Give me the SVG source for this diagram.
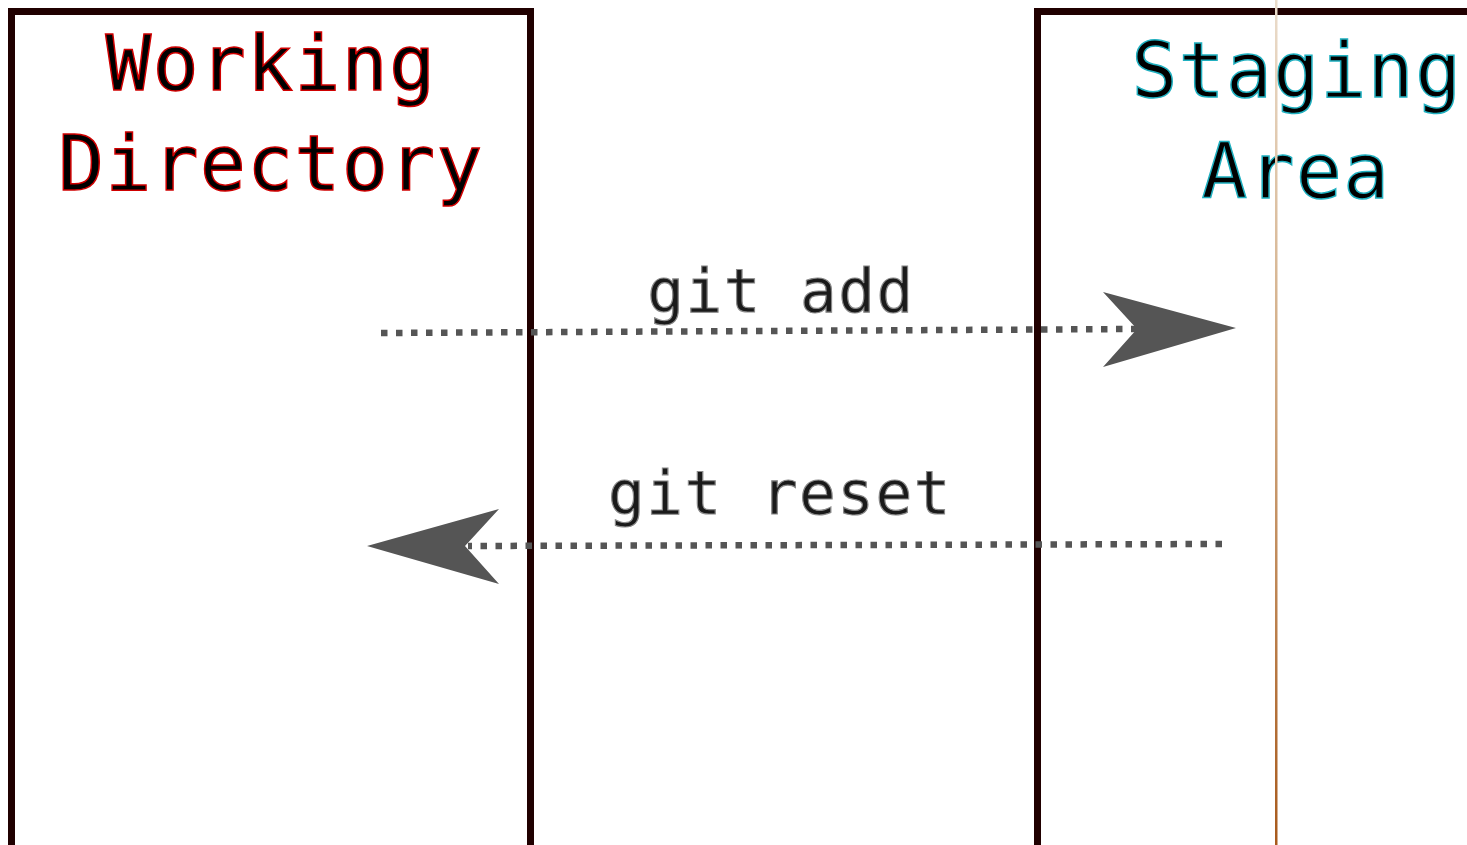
<svg xmlns="http://www.w3.org/2000/svg" width="1467" height="845" viewBox="0 0 1467 845">
<style>
.box{fill:#fff;stroke:#200000;stroke-width:7}
.title{font-family:"DejaVu Sans Mono","Liberation Mono",monospace;font-size:76px;fill:#000;stroke-width:1.5;text-anchor:middle;letter-spacing:1.5px}
.lbl{font-family:"DejaVu Sans Mono","Liberation Mono",monospace;font-size:61px;fill:#1a1a1a;stroke:#8a8a8a;stroke-width:1.2;text-anchor:middle;letter-spacing:1.5px}
.conn{stroke:#555;stroke-width:6.5;stroke-dasharray:6.5 8.5;fill:none}
.head{fill:#555}
</style>
<defs>
<linearGradient id="brown" x1="0" y1="0" x2="0" y2="1">
<stop offset="0" stop-color="#eadccb"/>
<stop offset="0.4" stop-color="#d4b08a"/>
<stop offset="1" stop-color="#a85a1c"/>
</linearGradient>
</defs>
<rect width="1467" height="845" fill="#fff"/>
<g id="working-directory">
<rect class="box" x="11.5" y="11.5" width="519" height="900"/>
<text class="title" stroke="#d00000" x="271" y="90">Working</text>
<text class="title" stroke="#d00000" x="271" y="190">Directory</text>
</g>
<g id="staging-area">
<rect class="box" x="1037.5" y="11.5" width="500" height="900"/>
<text class="title" stroke="#20b0c0" x="1297" y="97">Staging</text>
<text class="title" stroke="#20b0c0" x="1296" y="198">Area</text>
</g>
<rect id="divider" x="1275" y="0" width="2.5" height="845" fill="url(#brown)"/>
<g id="connectors">
<line class="conn" x1="381" y1="333" x2="1138" y2="329"/>
<path class="head" d="M1236,328 L1103,292 L1137,329 L1103,367 Z"/>
<text class="lbl" x="781" y="312">git add</text>
<line class="conn" x1="1222" y1="544" x2="468" y2="546"/>
<path class="head" d="M367,546 L499,509 L465,546 L499,584 Z"/>
<text class="lbl" x="780" y="514">git reset</text>
</g>
</svg>
